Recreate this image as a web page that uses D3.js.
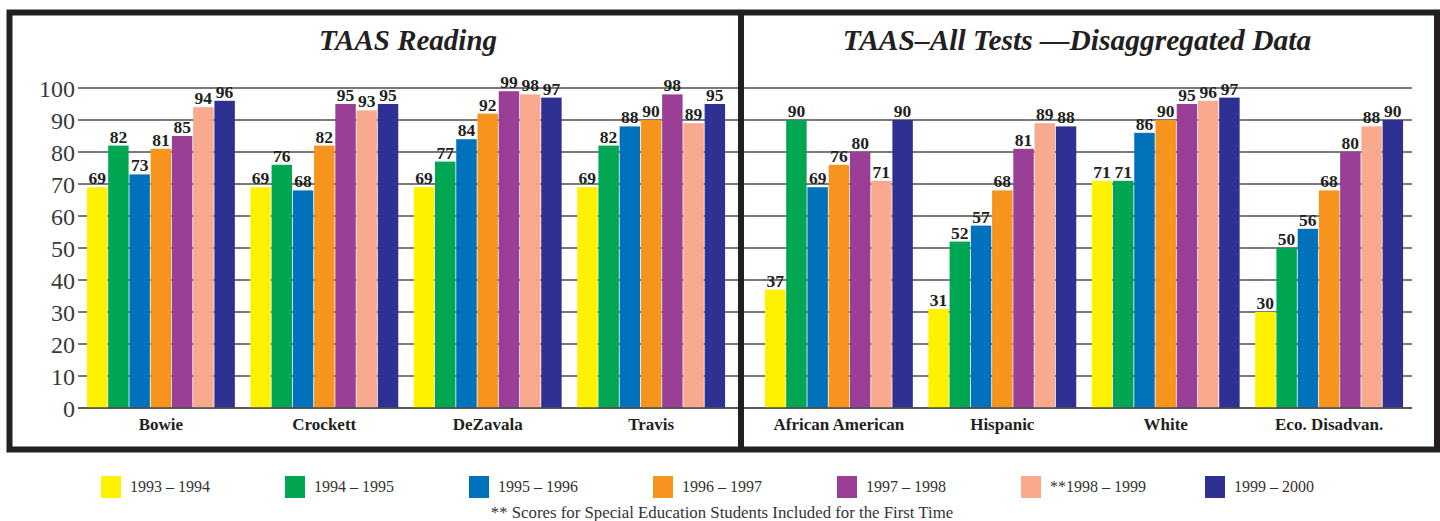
<!DOCTYPE html>
<html><head><meta charset="utf-8">
<script src="https://cdn.jsdelivr.net/npm/d3@7"></script>
<style>body{margin:0;background:#fff}svg{display:block}</style>
</head><body>
<svg id="chart" width="1440" height="521"></svg>
<script>
const seriesNames = ["1993 – 1994","1994 – 1995","1995 – 1996","1996 – 1997","1997 – 1998","**1998 – 1999","1999 – 2000"];
const seriesColors = ["#fff200","#00a651","#0072bc","#f7941d","#9b3e95","#f9a98d","#2e3192"];
const readingCategories = ["Bowie","Crockett","DeZavala","Travis"];
const readingValues = [
  [69,82,73,81,85,94,96],
  [69,76,68,82,95,93,95],
  [69,77,84,92,99,98,97],
  [69,82,88,90,98,89,95]
];
const disaggCategories = ["African American","Hispanic","White","Eco. Disadvan."];
const disaggValues = [
  [37,90,69,76,80,71,90],
  [31,52,57,68,81,89,88],
  [71,71,86,90,95,96,97],
  [30,50,56,68,80,88,90]
];
const yTicks = [0,10,20,30,40,50,60,70,80,90,100];
const footnote = "** Scores for Special Education Students Included for the First Time";

const svg = d3.select("#chart");
const y = d3.scaleLinear().domain([0,100]).range([408,88]);
const serif = "'Liberation Serif','DejaVu Serif',serif";
const ink = "#231f20";

function panel(opts){
  const g = svg.append("g");
  g.selectAll("line.grid").data(yTicks).enter().append("line")
    .attr("x1",opts.gx0).attr("x2",opts.gx1)
    .attr("y1",d=>y(d)).attr("y2",d=>y(d))
    .attr("stroke","#4d4d4d").attr("stroke-width",1.3);
  const x0 = d3.scaleBand().domain(opts.categories).range(opts.range).paddingInner(0.09).paddingOuter(0.04);
  const x1 = d3.scaleBand().domain(d3.range(seriesNames.length)).range([0,x0.bandwidth()]);
  const groups = g.selectAll("g.grp").data(opts.categories).enter().append("g")
    .attr("transform",d=>`translate(${x0(d)},0)`);
  groups.each(function(cat,ci){
    const gg = d3.select(this);
    const vals = opts.values[ci];
    gg.selectAll("rect").data(vals).enter().append("rect")
      .attr("x",(d,i)=>x1(i)+0.4).attr("width",x1.bandwidth()-0.8)
      .attr("y",d=>y(d)).attr("height",d=>y(0)-y(d))
      .attr("fill",(d,i)=>seriesColors[i]);
    gg.selectAll("text").data(vals).enter().append("text")
      .attr("x",(d,i)=>x1(i)+x1.bandwidth()/2).attr("y",d=>y(d)-3)
      .attr("text-anchor","middle").attr("font-family",serif).attr("font-weight","bold")
      .attr("font-size",17.5).attr("fill",ink).text(d=>d);
  });
  g.append("line").attr("x1",opts.gx0).attr("x2",opts.gx1).attr("y1",y(0)).attr("y2",y(0))
    .attr("stroke","#4d4d4d").attr("stroke-width",1.5);
  g.selectAll("text.cat").data(opts.categories).enter().append("text")
    .attr("x",d=>x0(d)+x0.bandwidth()/2).attr("y",430)
    .attr("text-anchor","middle").attr("font-family",serif).attr("font-weight","bold")
    .attr("font-size",17).attr("fill",ink).text(d=>d);
  g.append("text").attr("x",opts.tx).attr("y",50).attr("text-anchor","middle")
    .attr("font-family",serif).attr("font-weight","bold").attr("font-style","italic")
    .attr("font-size",opts.tsize).attr("fill",ink).text(opts.title);
  return x0;
}

panel({categories:readingCategories, values:readingValues, range:[80,732], gx0:78, gx1:738, tx:408, tsize:29, title:"TAAS Reading"});
panel({categories:disaggCategories, values:disaggValues, range:[758,1410], gx0:744, gx1:1412, tx:1077, tsize:29.5, title:"TAAS–All Tests —Disaggregated Data"});

const yAxis = d3.axisLeft(y).tickValues(yTicks).tickSize(0).tickPadding(0);
const ya = svg.append("g").attr("transform","translate(75,0)").call(yAxis);
ya.select(".domain").remove();
ya.selectAll("text").attr("font-family",serif).attr("font-size",24).attr("fill","#3a3a3a").attr("dy","0.34em");

svg.append("rect").attr("x",9.5).attr("y",12.5).attr("width",1440).attr("height",437)
  .attr("fill","none").attr("stroke",ink).attr("stroke-width",6);
svg.append("line").attr("x1",741).attr("x2",741).attr("y1",12).attr("y2",450)
  .attr("stroke",ink).attr("stroke-width",6);
svg.append("line").attr("x1",1437).attr("x2",1437).attr("y1",12).attr("y2",450)
  .attr("stroke",ink).attr("stroke-width",6);

const legend = svg.append("g");
const lx = d3.scaleBand().domain(d3.range(seriesNames.length)).range([101,101+184*7]);
const li = legend.selectAll("g").data(seriesNames).enter().append("g")
  .attr("transform",(d,i)=>`translate(${lx(i)},476)`);
li.append("rect").attr("width",20).attr("height",22).attr("fill",(d,i)=>seriesColors[i]);
li.append("text").attr("x",29).attr("y",16).attr("font-family",serif).attr("font-size",16)
  .attr("fill","#333").text(d=>d);

svg.append("text").attr("x",722).attr("y",518).attr("text-anchor","middle")
  .attr("font-family",serif).attr("font-size",16.8).attr("fill","#333").text(footnote);
</script>
</body></html>
